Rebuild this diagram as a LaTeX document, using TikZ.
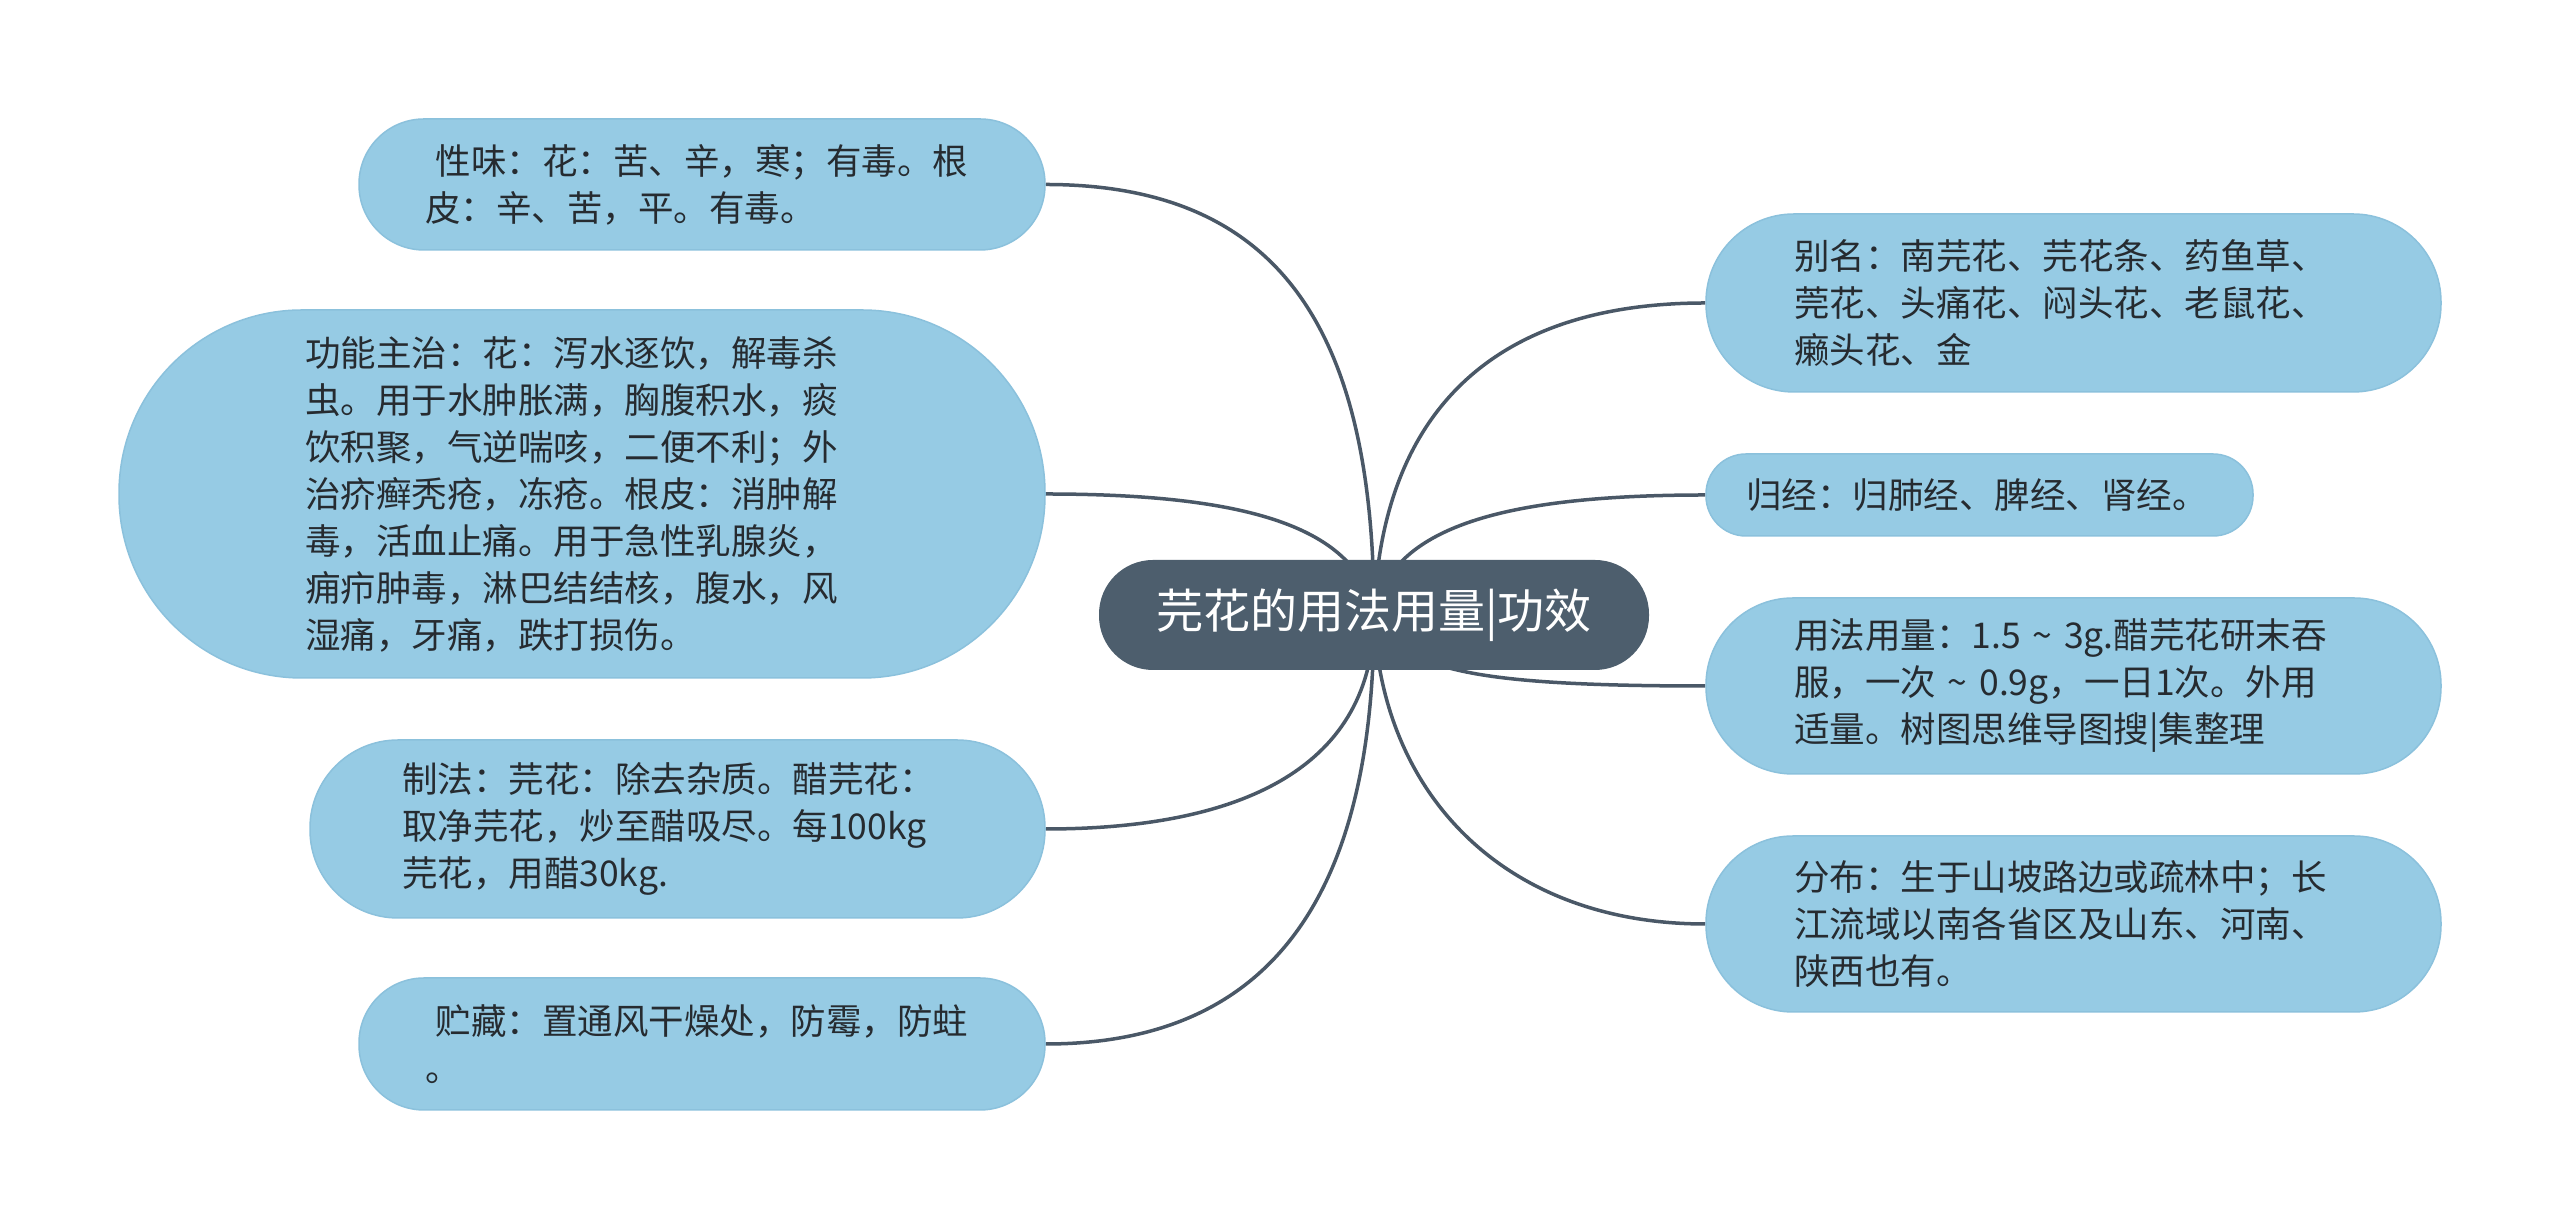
\documentclass[tikz,border=0pt]{standalone}
\usepackage{fontspec}
\setmainfont{Noto Sans CJK SC}
\usepackage{tikz}
\usetikzlibrary{backgrounds}

\definecolor{leafblue}{HTML}{96CBE4}
\definecolor{leafedge}{HTML}{8BC1DC}
\definecolor{rootgray}{HTML}{4D5E6D}
\definecolor{linegray}{HTML}{4A5867}
\definecolor{inkgray}{HTML}{262B30}

\newcommand{\leaffont}{\fontsize{35.5}{47}\selectfont}
\newcommand{\rootfont}{\fontsize{47}{56}\selectfont}

\begin{document}
\begin{tikzpicture}[
		x=1pt, y=1pt,
		% Style cho nút trung tâm
		topic/.style={fill=rootgray, text=white, font=\rootfont,
			minimum width=550pt, minimum height=110pt, rounded corners=54pt, inner sep=0pt},
		% Style cho các ô nhánh
		leaf/.style={fill=leafblue, draw=leafedge, line width=1.5pt, text=inkgray,
			font=\leaffont, align=left, inner sep=0pt},
		% Style cho đường nối
		branch/.style={linegray, line width=3.5pt}
		]
		\useasboundingbox (0,0) rectangle (2560,1230);
		
		% --- NÚT TRUNG TÂM ---
		\node[topic] (herb) at (1374,615) {芫花的用法用量|功效};
		
		% --- NHÁNH TRÁI ---
		\node[leaf, minimum width=686pt, minimum height=131pt, text width=554pt, rounded corners=65pt]
		(taste) at (702,1045.5) {\hspace*{0.3em}性味：花：苦、辛，寒；有毒。根\\皮：辛、苦，平。有毒。};
		\node[leaf, minimum width=926pt, minimum height=368pt, text width=554pt, rounded corners=183pt]
		(effect) at (582,736) {功能主治：花：泻水逐饮，解毒杀\\虫。用于水肿胀满，胸腹积水，痰\\饮积聚，气逆喘咳，二便不利；外\\治疥癣秃疮，冻疮。根皮：消肿解\\毒，活血止痛。用于急性乳腺炎，\\痈疖肿毒，淋巴结结核，腹水，风\\湿痛，牙痛，跌打损伤。};
		\node[leaf, minimum width=735pt, minimum height=178pt, text width=551pt, rounded corners=88pt]
		(prep) at (677.5,401) {制法：芫花：除去杂质。醋芫花：\\取净芫花，炒至醋吸尽。每100kg\\芫花，用醋30kg.};
		\node[leaf, minimum width=686pt, minimum height=132pt, text width=554pt, rounded corners=65pt]
		(store) at (702,186) {\hspace*{0.3em}贮藏：置通风干燥处，防霉，防蛀\\。};
		
		% --- NHÁNH PHẢI ---
		\node[leaf, minimum width=735pt, minimum height=178pt, text width=559pt, rounded corners=88pt]
		(alias) at (2073.5,927) {别名：南芫花、芫花条、药鱼草、\\莞花、头痛花、闷头花、老鼠花、\\癞头花、金};
		\node[leaf, minimum width=547pt, minimum height=82pt, text width=467pt, rounded corners=40pt]
		(meridian) at (1979.5,735) {归经：归肺经、脾经、肾经。};
		\node[leaf, minimum width=735pt, minimum height=176pt, text width=559pt, rounded corners=87pt]
		(dosage) at (2073.5,544) {用法用量：1.5~\textasciitilde~3g.醋芫花研末吞\\服，一次~\textasciitilde~0.9g，一日1次。外用\\适量。树图思维导图搜|集整理};
		\node[leaf, minimum width=735pt, minimum height=176pt, text width=559pt, rounded corners=87pt]
		(habitat) at (2073.5,306) {分布：生于山坡路边或疏林中；长\\江流域以南各省区及山东、河南、\\陕西也有。};
		
		% --- ĐƯỜNG NỐI (nằm dưới các nút) ---
		\begin{scope}[on background layer]
			\fill[white] (0,0) rectangle (2560,1230);
			% Trái
			\draw[branch] (herb.center) to[out=90, in=0, out distance=290pt, in distance=230pt] (taste.east);
			\draw[branch] (herb.center) to[out=100, in=0, out distance=90pt, in distance=200pt] (effect.east);
			\draw[branch] (herb.center) to[out=-90, in=0, out distance=150pt, in distance=200pt] (prep.east);
			\draw[branch] (herb.center) to[out=-90, in=0, out distance=260pt, in distance=240pt] (store.east);
			% Phải
			\draw[branch] (herb.center) to[out=88, in=180, out distance=200pt, in distance=215pt] (alias.west);
			\draw[branch] (herb.center) to[out=80, in=180, out distance=90pt, in distance=200pt] (meridian.west);
			\draw[branch] (herb.center) to[out=-60, in=180, out distance=60pt, in distance=250pt] (dosage.west);
			\draw[branch] (herb.center) to[out=-88, in=180, out distance=180pt, in distance=200pt] (habitat.west);
		\end{scope}
		
	\end{tikzpicture}
\end{document}
